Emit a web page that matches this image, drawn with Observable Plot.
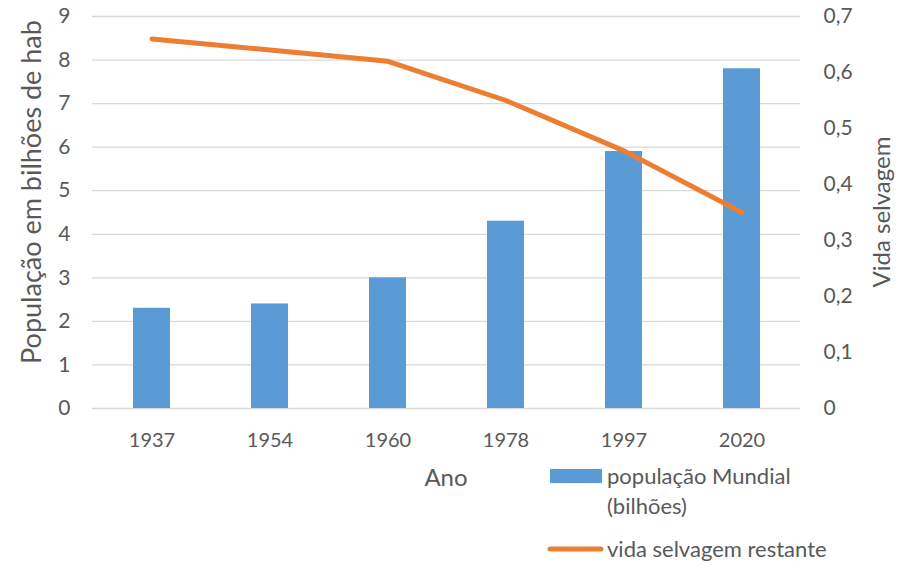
<!DOCTYPE html>
<html><head><meta charset="utf-8">
<script src="https://cdn.jsdelivr.net/npm/d3@7"></script>
<script src="https://cdn.jsdelivr.net/npm/@observablehq/plot@0.6"></script>
<style>
html,body{margin:0;padding:0;background:#fff;}
svg text{font-family:Lato,"Open Sans",sans-serif;}
</style></head>
<body><div id="chart"></div>
<script>
const years = ["1937","1954","1960","1978","1997","2020"];
const population = [2.3, 2.4, 3.0, 4.3, 5.9, 7.8];
const wildlife = [0.66, 0.64, 0.62, 0.55, 0.46, 0.35];
const leftTicks = [0,1,2,3,4,5,6,7,8,9];
const rightTicks = [0,0.1,0.2,0.3,0.4,0.5,0.6,0.7];
const seriesNames = ["população Mundial", "(bilhões)", "vida selvagem restante"];

const leftMax = 9, rightMax = 0.7;
const toLeft = v => v * leftMax / rightMax;
const barData = years.map((y,i)=>({year:y, value:population[i]}));
const lineData = years.map((y,i)=>({year:y, value:toLeft(wildlife[i])}));

const blue = "#5b9bd5", orange = "#ed7d31", gray = "#595959";

const plot = Plot.plot({
  width: 915, height: 565,
  marginLeft: 92, marginRight: 115, marginTop: 16, marginBottom: 157,
  style: {fontSize: "20px", color: gray, fontFamily: "Lato, 'Open Sans', sans-serif", background: "#fff"},
  x: {domain: years, paddingInner: 0.69, paddingOuter: 0.345, align: 0.5},
  y: {domain: [0, leftMax]},
  marks: [
    Plot.gridY(leftTicks, {stroke: "#d9d9d9", strokeOpacity: 1, strokeWidth: 1.3}),
    Plot.barY(barData, {x: "year", y: "value", fill: blue}),
    Plot.line(lineData, {x: "year", y: "value", stroke: orange, strokeWidth: 5, strokeLinecap: "round", strokeLinejoin: "round"}),
    Plot.axisY(leftTicks, {anchor: "left", tickSize: 0, tickPadding: 22, label: null, fill: gray, fontSize: 21}),
    Plot.axisY(rightTicks.map(toLeft), {anchor: "right", tickSize: 0, tickPadding: 23, label: null, fill: gray, fontSize: 21,
      tickFormat: d => { const v = Math.round(d * rightMax / leftMax * 10) / 10; return v === 0 ? "0" : String(v).replace(".", ","); }}),
    Plot.axisX({tickSize: 0, tickPadding: 24, label: null, fill: gray, fontSize: 20})
  ]
});
document.getElementById("chart").appendChild(plot);

const svg = d3.select(plot);
const txt = (x, y, s, opts={}) => {
  const t = svg.append("text").attr("x", x).attr("y", y).text(s)
    .attr("fill", gray).attr("font-size", opts.size || "19px")
    .attr("text-anchor", opts.anchor || "start");
  if (opts.rotate) t.attr("transform", `rotate(${opts.rotate},${x},${y})`);
  return t;
};
// axis titles
txt(446, 486, "Ano", {anchor: "middle", size: "24px"});
txt(41, 192, "População em bilhões de hab", {anchor: "middle", size: "27px", rotate: -90});
txt(890, 212, "Vida selvagem", {anchor: "middle", size: "24px", rotate: -90});
// legend
svg.append("rect").attr("x", 550).attr("y", 469).attr("width", 52).attr("height", 14).attr("fill", blue);
txt(607, 484, seriesNames[0], {size: "22px"});
txt(607, 514, seriesNames[1], {size: "22px"});
svg.append("line").attr("x1", 550).attr("x2", 601).attr("y1", 549).attr("y2", 549)
  .attr("stroke", orange).attr("stroke-width", 5).attr("stroke-linecap", "round");
txt(607, 557, seriesNames[2], {size: "22px"});
</script>
</body></html>
